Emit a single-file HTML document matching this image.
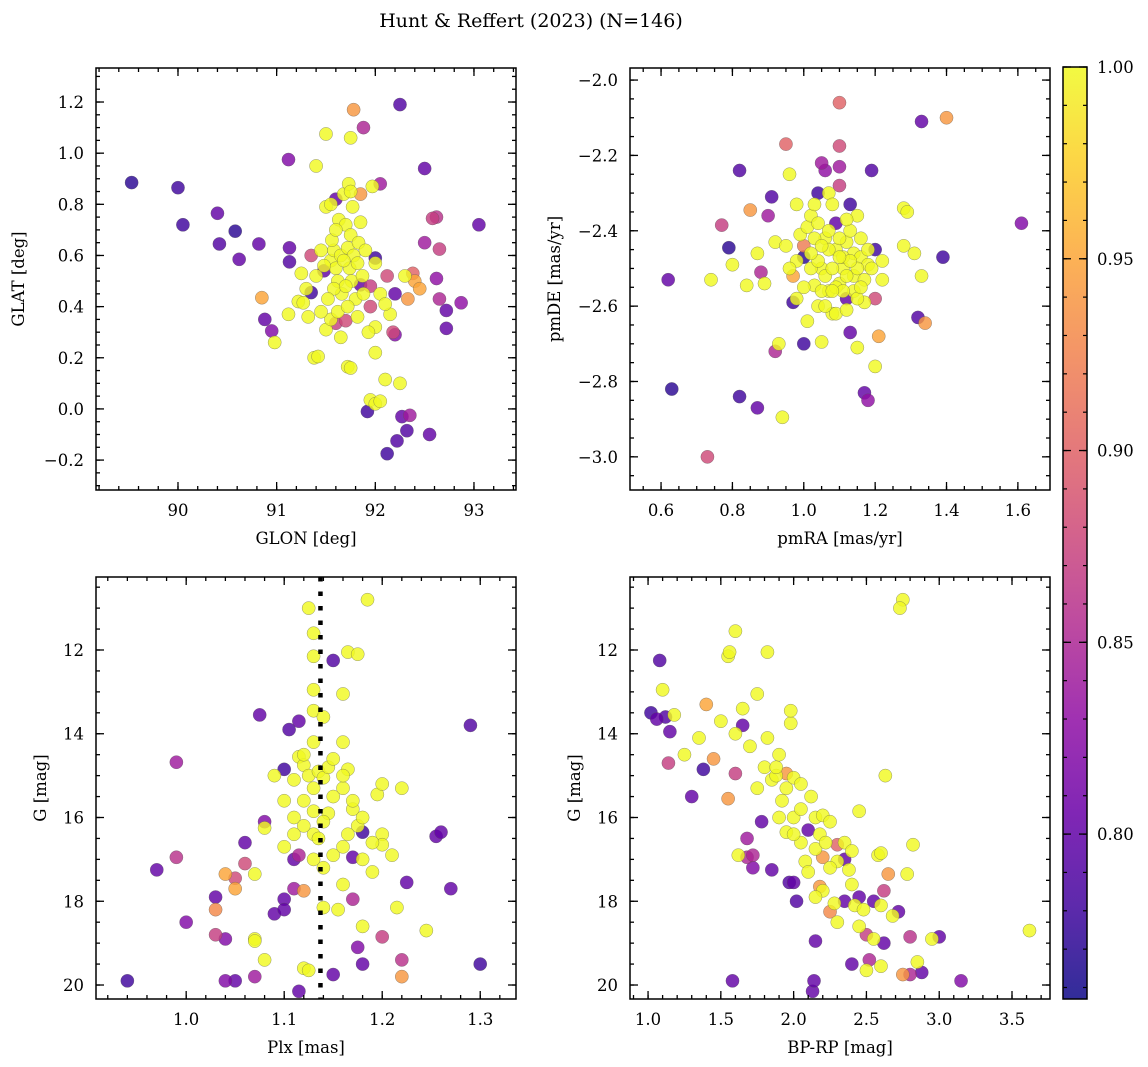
<!DOCTYPE html>
<html><head><meta charset="utf-8"><style>
body{margin:0;background:#fff;}
svg{display:block;font-family:"DejaVu Serif","Liberation Serif",serif;}
</style></head><body>
<svg id="fig" width="1148" height="1067" viewBox="0 0 1148 1067">
<text x="531" y="27" text-anchor="middle" font-size="19">Hunt &amp; Reffert (2023) (N=146)</text>
</svg>
<script>
// Panel 1: GLON / GLAT / membership probability
const glonGlat = [
[89.53,0.885,0.77],[90.0,0.865,0.78],[90.05,0.72,0.78],[90.4,0.765,0.8],[90.42,0.645,0.79],[90.58,0.695,0.77],[90.62,0.585,0.8],[90.82,0.645,0.8],[90.85,0.435,0.95],[90.88,0.35,0.8],[90.95,0.305,0.82],[90.98,0.26,1],[91.12,0.975,0.82],[91.13,0.63,0.8],[91.13,0.575,0.79],[91.12,0.37,1],[91.22,0.42,1],[91.27,0.415,1],[91.25,0.53,1],[91.35,0.6,0.88],[91.35,0.455,0.78],[91.4,0.95,1],[91.38,0.2,1],[91.42,0.205,1],[91.5,1.075,1],[91.48,0.54,0.8],[91.5,0.31,1],[91.55,0.35,1],[91.6,0.335,0.87],[91.55,0.58,1],
[91.78,1.17,0.94],[91.75,1.06,1],[91.88,1.1,0.85],[92.25,1.19,0.79],[91.7,0.345,0.88],[91.72,0.165,1],[91.75,0.16,1],[91.92,-0.01,0.78],[91.95,0.035,1],[92.0,0.02,1],[92.05,0.03,1],[92.1,0.115,1],[92.12,-0.175,0.78],[92.22,-0.125,0.79],[92.27,-0.03,0.8],[92.32,-0.085,0.79],[92.35,-0.025,0.84],[92.55,-0.1,0.8],[92.25,0.1,1],[92.18,0.3,0.88],[92.2,0.29,0.82],[92.15,0.37,1],[92.2,0.45,0.8],[92.3,0.52,1],[92.33,0.43,0.94],[92.38,0.53,0.9],[92.4,0.5,0.95],[92.45,0.47,0.95],[92.12,0.52,0.88],[92.05,0.45,1],[92.05,0.88,0.84],[91.97,0.87,1],[92.0,0.59,0.78],[92.0,0.57,1],[92.0,0.22,1],[92.0,0.32,1],[92.5,0.94,0.8],[92.5,0.65,0.84],[92.58,0.745,0.87],[92.62,0.75,0.86],[92.65,0.625,0.87],[92.62,0.51,0.83],[92.65,0.43,0.85],[92.72,0.385,0.8],[92.72,0.315,0.8],[92.87,0.415,0.83],[93.05,0.72,0.8],[91.85,0.84,0.94],[91.95,0.4,0.88],[91.85,0.485,0.8],[91.6,0.82,0.8],[91.95,0.48,0.87],
[91.45,0.62,1],[91.5,0.79,1],[91.55,0.8,1],[91.58,0.62,1],[91.6,0.55,1],[91.62,0.5,1],[91.63,0.74,1],[91.65,0.6,1],[91.66,0.45,1],[91.68,0.84,1],[91.7,0.72,1],[91.72,0.63,1],[91.73,0.88,1],[91.74,0.55,1],[91.75,0.68,1],[91.76,0.5,1],[91.77,0.79,1],[91.78,0.6,1],[91.8,0.43,1],[91.82,0.57,1],[91.83,0.65,1],[91.85,0.73,1],[91.87,0.52,1],[91.88,0.45,1],[91.9,0.62,1],[91.58,0.47,1],[91.62,0.38,1],[91.65,0.28,1],[91.52,0.43,1],[91.45,0.38,1],[91.4,0.52,1],[91.32,0.36,1],[91.3,0.47,1],[91.68,0.58,1],[91.72,0.4,1],[92.1,0.41,1],[91.93,0.3,1],[91.56,0.66,1],[91.75,0.85,1],[91.6,0.7,1],[91.7,0.48,1],[91.82,0.36,1],[91.48,0.56,1]
];
// Panel 2: pmRA / pmDE
const pmData = [
[0.62,-2.53,0.8],[0.63,-2.82,0.77],[0.73,-3.0,0.88],[0.74,-2.53,1],[0.77,-2.385,0.87],[0.79,-2.445,0.77],[0.8,-2.49,1],[0.82,-2.24,0.79],[0.82,-2.84,0.78],[0.84,-2.545,1],[0.85,-2.345,0.94],[0.87,-2.87,0.8],[0.87,-2.46,1],[0.88,-2.51,0.85],[0.89,-2.54,1],[0.9,-2.36,0.84],[0.91,-2.31,0.79],[0.92,-2.43,1],[0.92,-2.72,0.85],[0.93,-2.7,1],[0.94,-2.895,1],[0.95,-2.17,0.9],[0.95,-2.44,1],[0.96,-2.25,1],[0.97,-2.52,0.95],[0.97,-2.59,0.78],[0.98,-2.33,1],[0.98,-2.48,1],[0.99,-2.41,1],[1.0,-2.7,0.78],[1.0,-2.47,0.77],[1.0,-2.44,0.92],[1.01,-2.39,1],[1.01,-2.64,1],[1.02,-2.36,1],[1.03,-2.545,1],[1.03,-2.33,1],[1.04,-2.3,0.78],[1.04,-2.6,1],[1.05,-2.22,0.84],[1.05,-2.5,1],[1.05,-2.695,1],[1.06,-2.24,0.83],[1.06,-2.42,1],[1.07,-2.56,1],[1.07,-2.3,1],[1.08,-2.62,1],[1.08,-2.33,1],[1.09,-2.45,1],[1.09,-2.38,0.8],[1.1,-2.06,0.9],[1.1,-2.175,0.88],[1.1,-2.23,0.84],[1.1,-2.28,0.87],[1.1,-2.54,1],[1.11,-2.5,1],[1.12,-2.43,1],[1.12,-2.58,0.8],[1.13,-2.33,0.78],[1.13,-2.67,0.8],[1.14,-2.52,1],[1.14,-2.46,1],[1.15,-2.36,1],[1.15,-2.71,1],[1.16,-2.47,1],[1.17,-2.83,0.8],[1.17,-2.59,1],[1.18,-2.85,0.83],[1.18,-2.49,1],[1.19,-2.24,0.79],[1.2,-2.45,0.78],[1.2,-2.58,0.88],[1.2,-2.76,1],[1.21,-2.68,0.95],[1.22,-2.53,1],[1.28,-2.34,1],[1.28,-2.44,1],[1.29,-2.35,1],[1.31,-2.46,1],[1.32,-2.63,0.79],[1.33,-2.11,0.8],[1.33,-2.52,1],[1.34,-2.645,0.94],[1.39,-2.47,0.78],[1.4,-2.1,0.94],[1.61,-2.38,0.82],
[1.02,-2.5,1],[1.03,-2.42,1],[1.04,-2.48,1],[1.05,-2.56,1],[1.06,-2.52,1],[1.07,-2.45,1],[1.08,-2.5,1],[1.09,-2.55,1],[1.1,-2.42,1],[1.11,-2.47,1],[1.12,-2.52,1],[1.13,-2.4,1],[1.14,-2.56,1],[1.15,-2.5,1],[1.16,-2.42,1],[1.17,-2.53,1],[1.18,-2.45,1],[1.19,-2.5,1],[1.06,-2.6,1],[1.09,-2.62,1],[1.12,-2.37,1],[1.0,-2.55,1],[0.98,-2.58,1],[1.15,-2.58,1],[1.22,-2.48,1],[1.04,-2.38,1],[1.07,-2.4,1],[1.11,-2.56,1],[1.13,-2.48,1],[1.08,-2.56,1],[0.96,-2.5,1],[1.02,-2.46,1],[1.16,-2.55,1],[1.1,-2.47,1],[1.12,-2.61,1],[1.05,-2.44,1]
];
// Panel 3: Plx / G
const plxG = [
[0.94,19.9,0.78],[0.97,17.25,0.8],[0.99,14.68,0.84],[0.99,16.95,0.86],[1.0,18.5,0.82],[1.03,17.9,0.8],[1.03,18.2,0.93],[1.03,18.8,0.87],[1.04,17.35,0.95],[1.04,18.9,0.82],[1.04,19.9,0.82],[1.05,17.45,0.88],[1.05,17.7,0.95],[1.05,19.9,0.8],[1.06,16.6,0.8],[1.06,17.1,0.88],[1.07,18.9,1],[1.07,18.95,1],[1.07,17.35,1],[1.07,19.8,0.84],[1.075,13.55,0.8],[1.08,16.1,0.82],[1.08,16.25,1],[1.08,19.4,1],[1.09,18.3,0.8],[1.1,15.6,1],[1.1,16.7,1],[1.1,17.95,0.8],[1.1,18.2,0.8],[1.1,14.85,0.78],[1.105,13.9,0.79],[1.11,16.0,1],[1.11,17.0,0.8],[1.11,17.7,0.84],[1.11,15.1,1],[1.115,13.7,0.8],[1.115,14.55,1],[1.115,16.9,0.85],[1.115,20.15,0.8],[1.12,14.75,1],[1.12,15.6,1],[1.12,17.75,0.94],[1.12,19.6,1],[1.125,11.0,1],[1.125,15.0,1],[1.125,19.65,1],[1.13,11.6,1],[1.13,12.15,1],[1.13,12.95,1],[1.13,13.45,1],[1.13,14.2,1],[1.13,15.85,1],[1.13,16.4,1],[1.135,14.9,1],[1.135,16.5,1],[1.14,15.05,1],[1.14,17.2,1],[1.14,18.15,1],[1.145,14.8,1],[1.145,15.9,1],[1.15,12.25,0.79],[1.15,15.5,1],[1.15,16.9,1],[1.15,19.75,0.8],[1.155,18.2,1],[1.16,13.05,1],[1.16,14.2,1],[1.16,15.3,1],[1.16,16.7,1],[1.165,12.05,1],[1.165,14.85,1],[1.17,15.8,1],[1.17,16.95,0.8],[1.17,17.95,0.85],[1.175,12.1,1],[1.175,16.2,1],[1.175,19.1,0.82],[1.18,16.35,0.78],[1.18,18.6,1],[1.18,19.5,0.8],[1.185,10.8,1],[1.19,17.3,1],[1.195,15.45,1],[1.2,16.4,1],[1.2,16.65,1],[1.2,18.85,0.87],[1.2,15.2,1],[1.21,16.9,1],[1.215,18.15,1],[1.22,19.4,0.86],[1.22,19.8,0.94],[1.22,15.3,1],[1.225,17.55,0.8],[1.245,18.7,1],[1.255,16.45,0.8],[1.27,17.7,0.8],[1.29,13.8,0.79],[1.3,19.5,0.78],[1.26,16.35,0.8],
[1.12,14.5,1],[1.13,15.3,1],[1.14,16.1,1],[1.12,16.2,1],[1.16,15.0,1],[1.17,15.6,1],[1.18,16.0,1],[1.19,16.6,1],[1.15,14.6,1],[1.13,17.0,1],[1.16,17.6,1],[1.09,15.0,1],[1.11,16.4,1],[1.165,16.4,1],[1.14,13.6,1],[1.18,17.0,1]
];
// Panel 4: BP-RP / G
const colorMag = [
[1.02,13.5,0.78],[1.06,13.65,0.8],[1.08,12.25,0.79],[1.1,12.95,1],[1.12,13.6,0.79],[1.14,14.7,0.87],[1.15,13.95,0.8],[1.18,13.55,1],[1.25,14.5,1],[1.3,15.5,0.8],[1.35,14.1,1],[1.38,14.85,0.78],[1.4,13.3,0.95],[1.45,14.6,0.94],[1.5,13.7,1],[1.55,15.55,0.94],[1.55,12.15,1],[1.56,12.05,1],[1.58,19.9,0.8],[1.6,11.55,1],[1.6,14.0,1],[1.6,14.95,0.87],[1.62,16.9,1],[1.65,13.8,0.8],[1.65,13.4,1],[1.68,16.95,0.85],[1.68,16.5,0.84],[1.7,14.3,1],[1.72,16.9,0.85],[1.72,17.2,0.82],[1.75,13.05,1],[1.78,16.1,0.8],[1.8,14.8,1],[1.82,14.1,1],[1.82,12.05,1],[1.85,17.25,0.8],[1.85,15.1,1],[1.88,15.0,1],[1.88,14.8,1],[1.9,16.0,1],[1.92,15.6,1],[1.95,16.35,1],[1.95,14.95,0.94],[1.97,17.55,0.79],[1.98,13.75,1],[1.98,13.45,1],[2.0,15.05,1],[2.0,16.0,1],[2.0,17.55,0.8],[2.02,18.0,0.79],[2.05,15.2,1],[2.05,16.6,1],[2.08,17.05,1],[2.1,16.3,0.8],[2.12,15.5,1],[2.13,20.15,0.8],[2.14,19.9,0.8],[2.15,18.95,0.8],[2.15,16.0,1],[2.18,17.65,0.94],[2.18,16.4,1],[2.2,15.95,1],[2.2,17.75,1],[2.2,16.95,0.94],[2.25,16.1,1],[2.25,18.25,0.93],[2.28,18.05,1],[2.3,16.65,0.9],[2.3,17.05,1],[2.35,17.0,0.8],[2.35,18.0,0.8],[2.38,17.25,1],[2.4,19.5,0.8],[2.42,18.1,1],[2.45,17.9,0.8],[2.48,18.2,1],[2.5,18.8,0.87],[2.5,19.65,1],[2.52,19.4,0.85],[2.55,18.0,0.8],[2.58,16.9,1],[2.6,18.1,1],[2.6,19.55,1],[2.62,17.75,0.87],[2.62,19.0,0.8],[2.63,15.0,1],[2.65,17.35,0.94],[2.68,18.35,1],[2.72,18.25,0.8],[2.75,19.75,0.94],[2.78,17.35,1],[2.8,18.85,0.86],[2.8,19.75,0.85],[2.82,16.65,1],[2.85,19.45,1],[2.88,19.7,0.8],[2.95,18.9,1],[3.0,18.85,0.8],[3.15,19.9,0.82],[3.62,18.7,1],[2.75,10.8,1],[2.73,11.0,1],[2.15,16.75,1],[2.35,16.6,1],[2.45,15.85,1],[2.6,16.85,1],
[1.75,15.3,1],[1.95,15.3,1],[2.05,15.8,1],[2.1,17.3,1],[2.25,17.2,1],[2.4,16.8,1],[2.3,18.5,1],[2.45,18.6,1],[2.55,18.9,1],[1.9,14.5,1],[2.0,16.4,1],[2.22,16.6,1],[2.4,17.6,1],[2.15,17.9,1]
];
const plxLine = 1.137;
const cbTicks = [0.80,0.85,0.90,0.95,1.00];
const cMin = 0.757, cMax = 1.0;

const NS="http://www.w3.org/2000/svg";
const fig=document.getElementById('fig');
function el(tag,attrs,parent){const e=document.createElementNS(NS,tag);for(const k in attrs)e.setAttribute(k,attrs[k]);(parent||fig).appendChild(e);return e;}
const stops=['#0d0887','#41049d','#6a00a8','#8f0da4','#b12a90','#cc4778','#e16462','#f2844b','#fca636','#fcce25','#f0f921'];
function hex(h){return[parseInt(h.slice(1,3),16),parseInt(h.slice(3,5),16),parseInt(h.slice(5,7),16)];}
function plasma(t){t=Math.max(0,Math.min(1,t));const f=t*10,i=Math.min(9,Math.floor(f)),r=f-i;const a=hex(stops[i]),b=hex(stops[i+1]);return'rgb('+a.map((v,k)=>Math.round(v+(b[k]-v)*r)).join(',')+')';}
function colorOf(p){return plasma((p-cMin)/(cMax-cMin));}

function fmt(v,d){let s=v.toFixed(d);if(s.startsWith('-'))s='\u2212'+s.slice(1);return s;}

function panel(cfg){
  const g=el('g',{});
  
  
  const {L,T,R,B}=cfg;
  const sx=v=>L+(v-cfg.x0)/(cfg.x1-cfg.x0)*(R-L);
  const sy=v=>T+(v-cfg.y0)/(cfg.y1-cfg.y0)*(B-T);
  const pts=el('g',{},g);
  
  
  const sorted=cfg.data.slice().sort((a,b)=>a[2]-b[2]);
  sorted.forEach(d=>{
    const c=el('circle',{cx:sx(d[0]),cy:sy(d[1]),r:6.6,fill:colorOf(d[2]),'fill-opacity':0.82,stroke:'#555','stroke-width':0.5,'stroke-opacity':0.6},pts);
    
    
  });
  if(cfg.vline!==undefined){
    const ln=el('line',{x1:sx(cfg.vline),x2:sx(cfg.vline),y1:T,y2:B,stroke:'#000','stroke-width':4.5,'stroke-dasharray':'4.5,10'},g);
    
    
  }
  const tk=el('g',{stroke:'#000','stroke-width':1.3},g);
  
  
  const eps=1e-9;
  function range(a,b,st){const lo=Math.min(a,b),hi=Math.max(a,b);const out=[];for(let v=Math.ceil(lo/st-eps)*st;v<=hi+eps;v+=st)out.push(+v.toFixed(6));return out;}
  range(cfg.x0,cfg.x1,cfg.xmin).forEach(v=>{const x=sx(v);el('line',{x1:x,x2:x,y1:B,y2:B-4},tk);el('line',{x1:x,x2:x,y1:T,y2:T+4},tk);});
  range(cfg.y0,cfg.y1,cfg.ymin).forEach(v=>{const y=sy(v);el('line',{x1:L,x2:L+4,y1:y,y2:y},tk);el('line',{x1:R,x2:R-4,y1:y,y2:y},tk);});
  range(cfg.x0,cfg.x1,cfg.xmaj).forEach(v=>{const x=sx(v);el('line',{x1:x,x2:x,y1:B,y2:B-8},tk);el('line',{x1:x,x2:x,y1:T,y2:T+8},tk);
    const t=el('text',{x:x,y:B+26,'text-anchor':'middle','font-size':16.5},g);t.textContent=fmt(v,cfg.xd);
    });
  range(cfg.y0,cfg.y1,cfg.ymaj).forEach(v=>{const y=sy(v);el('line',{x1:L,x2:L+8,y1:y,y2:y},tk);el('line',{x1:R,x2:R-8,y1:y,y2:y},tk);
    const t=el('text',{x:L-12,y:y+6,'text-anchor':'end','font-size':16.5},g);t.textContent=fmt(v,cfg.yd);
    });
  const fr=el('rect',{x:L,y:T,width:R-L,height:B-T,fill:'none',stroke:'#000','stroke-width':1.5},g);
  
  const xl=el('text',{x:(L+R)/2,y:B+54,'text-anchor':'middle','font-size':16.5},g);xl.textContent=cfg.xlabel;
  
  const yx=cfg.ylx, yy=(T+B)/2;
  const yl=el('text',{x:yx,y:yy,'text-anchor':'middle','font-size':16.5,transform:'rotate(-90 '+yx+' '+yy+')'},g);yl.textContent=cfg.ylabel;
  
}

panel({name:'glon-glat-panel',L:96,T:68,R:516,B:490,x0:89.169,x1:93.426,y0:1.333,y1:-0.317,xmaj:1,xmin:0.2,ymaj:0.2,ymin:0.05,xd:0,yd:1,data:glonGlat,xlabel:'GLON [deg]',ylabel:'GLAT [deg]',ylx:24});
panel({name:'proper-motion-panel',L:630,T:68,R:1050,B:490,x0:0.513,x1:1.69,y0:-1.968,y1:-3.088,xmaj:0.2,xmin:0.05,ymaj:0.2,ymin:0.05,xd:1,yd:1,data:pmData,xlabel:'pmRA [mas/yr]',ylabel:'pmDE [mas/yr]',ylx:560});
panel({name:'parallax-magnitude-panel',L:96,T:577,R:516,B:999,x0:0.908,x1:1.3365,y0:10.257,y1:20.334,xmaj:0.1,xmin:0.02,ymaj:2,ymin:0.5,xd:1,yd:0,data:plxG,xlabel:'Plx [mas]',ylabel:'G [mag]',ylx:46,vline:plxLine});
panel({name:'color-magnitude-panel',L:630,T:577,R:1050,B:999,x0:0.876,x1:3.761,y0:10.257,y1:20.334,xmaj:0.5,xmin:0.1,ymaj:2,ymin:0.5,xd:1,yd:0,data:colorMag,xlabel:'BP-RP [mag]',ylabel:'G [mag]',ylx:580});

(function(){
  const L=1063,R=1087,T=67,B=999;
  const g=el('g',{});
  
  
  const defs=el('defs',{},g);
  const lg=el('linearGradient',{id:'cbg',x1:0,y1:1,x2:0,y2:0},defs);
  for(let i=0;i<=20;i++){el('stop',{offset:i/20,'stop-color':plasma(i/20),'stop-opacity':0.85},lg);}
  el('rect',{x:L,y:T,width:R-L,height:B-T,fill:'url(#cbg)'},g);
  const sy=v=>B-(v-cMin)/(cMax-cMin)*(B-T);
  for(let v=0.76;v<=1.0001;v+=0.01){const y=sy(v);el('line',{x1:R,x2:R-4,y1:y,y2:y,stroke:'#000','stroke-width':1.2},g);el('line',{x1:L,x2:L+4,y1:y,y2:y,stroke:'#000','stroke-width':1.2},g);}
  cbTicks.forEach(v=>{const y=sy(v);el('line',{x1:R,x2:R-8,y1:y,y2:y,stroke:'#000','stroke-width':1.3},g);el('line',{x1:L,x2:L+8,y1:y,y2:y,stroke:'#000','stroke-width':1.3},g);
    const t=el('text',{x:R+10,y:y+6,'font-size':16.5},g);t.textContent=v.toFixed(2);
    });
  el('rect',{x:L,y:T,width:R-L,height:B-T,fill:'none',stroke:'#000','stroke-width':1.5},g);
})();
</script>
</body></html>
